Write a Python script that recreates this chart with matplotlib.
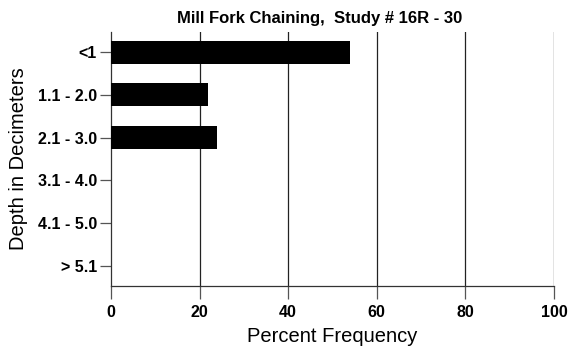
import matplotlib
matplotlib.use("Agg")
import matplotlib.pyplot as plt

plt.rcParams['font.family'] = ['Liberation Sans', 'DejaVu Sans']

# depth classes (top to bottom) and percent frequency
depth_classes = ['<1', '1.1 - 2.0', '2.1 - 3.0', '3.1 - 4.0', '4.1 - 5.0', '> 5.1']
percent_freq = [54, 22, 24, 0, 0, 0]
x_ticks = [0, 20, 40, 60, 80, 100]

fig = plt.figure(figsize=(5.7, 3.5), dpi=100)
ax = fig.add_axes([0.1947, 0.1829, 0.7772, 0.7257])

ypos = list(range(len(depth_classes)))
ax.barh(ypos, percent_freq, height=0.54, color='black', zorder=3)

ax.set_ylim(len(depth_classes) - 0.53, -0.47)
ax.set_xlim(0, 100)
ax.set_yticks(ypos)
ax.set_yticklabels(depth_classes, fontweight='bold', fontsize=11.5)
ax.set_xticks(x_ticks)
ax.set_xticklabels([str(t) for t in x_ticks], fontweight='bold', fontsize=11.5)

for t in x_ticks[1:]:
    ax.axvline(t, color='#222222', linewidth=0.9, zorder=1)

for side in ['top', 'right']:
    ax.spines[side].set_visible(False)
for side in ['left', 'bottom']:
    ax.spines[side].set_color('#333333')
    ax.spines[side].set_linewidth(0.9)

ax.tick_params(axis='y', length=8, width=0.9, color='#555555', pad=2)
ax.tick_params(axis='x', length=9, width=0.9, color='#555555', pad=5)

ax.set_xlabel('Percent Frequency', fontsize=14.5, labelpad=5)
ax.set_ylabel('Depth in Decimeters', fontsize=14.5, labelpad=7)

fig.text(0.561, 0.948, 'Mill Fork Chaining,  Study # 16R - 30',
         ha='center', va='center', fontsize=12, fontweight='bold')

fig.savefig('out.png', dpi=100)
